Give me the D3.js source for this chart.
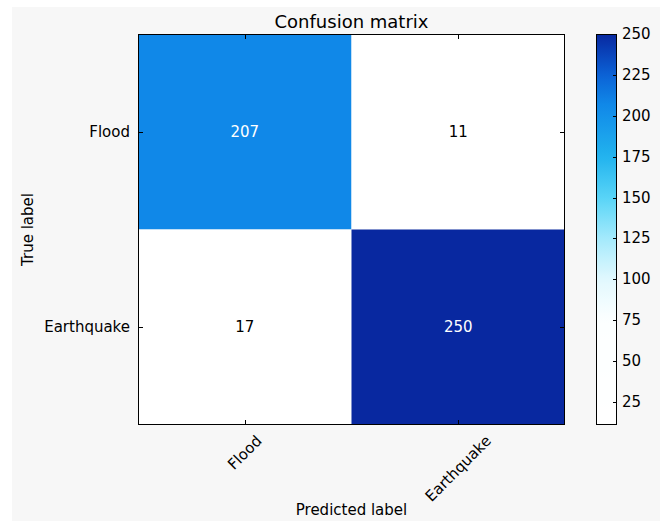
<!DOCTYPE html>
<html>
<head>
<meta charset="utf-8">
<script src="https://cdn.jsdelivr.net/npm/d3@7"></script>
<style>
  html, body { margin: 0; padding: 0; background: #ffffff; }
  svg { display: block; font-family: "DejaVu Sans", sans-serif; }
</style>
</head>
<body>
<svg id="chart" width="668" height="521"></svg>
<script>
// Class names shared by both axes
const categories = ["Flood", "Earthquake"];
// Counts per true label (row), split by predicted label (column)
const floodRow = [207, 11];
const earthquakeRow = [17, 250];
// Colour bar ticks
const colorbarTicks = [25, 50, 75, 100, 125, 150, 175, 200, 225, 250];
// Colour map stops (fraction of range -> colour)
const cmapStops = [0, 0.268, 0.372, 0.477, 0.582, 0.686, 0.82, 0.895, 1];
const cmapColors = ["#ffffff", "#fcffff", "#e2f8fe", "#a4eafc", "#58d4f7", "#22b3ee", "#1088e8", "#0b62d6", "#0828a0"];

const matrix = [floodRow, earthquakeRow];
const cells = [];
matrix.forEach((row, i) => row.forEach((v, j) => cells.push({ i, j, v })));
const allVals = cells.map(d => d.v);
const vmin = d3.min(allVals), vmax = d3.max(allVals);

const svg = d3.select("#chart");

// Figure background
svg.append("rect").attr("x", 12).attr("y", 7).attr("width", 648).attr("height", 514).attr("fill", "#f7f7f7");

const plot = { left: 138, top: 34, right: 565, bottom: 425 };

const x = d3.scaleBand().domain(d3.range(categories.length)).range([plot.left, plot.right]);
const y = d3.scaleBand().domain(d3.range(categories.length)).range([plot.top, plot.bottom]);

const norm = d3.scaleLinear().domain([vmin, vmax]).range([0, 1]).clamp(true);
const cmap = d3.scaleLinear().domain(cmapStops).range(cmapColors).interpolate(d3.interpolateRgb);
const color = v => cmap(norm(v));

// Cells
svg.append("g").selectAll("rect").data(cells).join("rect")
  .attr("x", d => x(d.j)).attr("y", d => y(d.i))
  .attr("width", x.bandwidth()).attr("height", y.bandwidth())
  .attr("fill", d => color(d.v));

// Cell values
const thresh = vmax / 2;
svg.append("g").selectAll("text").data(cells).join("text")
  .attr("x", d => x(d.j) + x.bandwidth() / 2)
  .attr("y", d => y(d.i) + y.bandwidth() / 2)
  .attr("text-anchor", "middle").attr("dominant-baseline", "central")
  .attr("font-size", 15)
  .attr("fill", d => d.v > thresh ? "#ffffff" : "#000000")
  .text(d => d.v);

// Inward ticks on all four sides
const tickLen = 5;
const ticks = svg.append("g").attr("stroke", "#000").attr("stroke-width", 1);
categories.forEach((c, k) => {
  const cx = Math.round(x(k) + x.bandwidth() / 2) + 0.5;
  const cy = Math.round(y(k) + y.bandwidth() / 2) + 0.5;
  ticks.append("line").attr("x1", cx).attr("x2", cx).attr("y1", plot.bottom).attr("y2", plot.bottom - tickLen);
  ticks.append("line").attr("x1", cx).attr("x2", cx).attr("y1", plot.top).attr("y2", plot.top + tickLen);
  ticks.append("line").attr("y1", cy).attr("y2", cy).attr("x1", plot.left).attr("x2", plot.left + tickLen);
  ticks.append("line").attr("y1", cy).attr("y2", cy).attr("x1", plot.right).attr("x2", plot.right - tickLen);
});

// Frame
svg.append("rect").attr("x", plot.left + 0.5).attr("y", plot.top + 0.5)
  .attr("width", plot.right - plot.left - 1).attr("height", plot.bottom - plot.top - 1)
  .attr("fill", "none").attr("stroke", "#000").attr("stroke-width", 1);

// Y tick labels
svg.append("g").selectAll("text").data(categories).join("text")
  .attr("x", plot.left - 8)
  .attr("y", (d, k) => y(k) + y.bandwidth() / 2)
  .attr("text-anchor", "end").attr("dominant-baseline", "central")
  .attr("font-size", 15).attr("fill", "#000")
  .text(d => d);

// X tick labels, rotated 45 degrees and centred under each tick
const xl = svg.append("g");
categories.forEach((c, k) => {
  const t = xl.append("text")
    .attr("text-anchor", "middle").attr("dominant-baseline", "central")
    .attr("font-size", 15).attr("fill", "#000").text(c);
  const w = t.node().getComputedTextLength();
  const h = 15;
  const half = (w + h) / (2 * Math.SQRT2);
  const cx = x(k) + x.bandwidth() / 2;
  t.attr("transform", `translate(${cx},${plot.bottom + 8 + half}) rotate(-45)`);
});

// Axis titles
svg.append("text").attr("x", (plot.left + plot.right) / 2).attr("y", 515)
  .attr("text-anchor", "middle").attr("font-size", 15).attr("fill", "#000").text("Predicted label");
svg.append("text").attr("transform", `translate(33,${(plot.top + plot.bottom) / 2}) rotate(-90)`)
  .attr("text-anchor", "middle").attr("font-size", 15).attr("fill", "#000").text("True label");

// Title
svg.append("text").attr("x", (plot.left + plot.right) / 2).attr("y", 28)
  .attr("text-anchor", "middle").attr("font-size", 18).attr("fill", "#000").text("Confusion matrix");

// Colour bar
const cb = { left: 596, right: 617, top: 34, bottom: 425 };
const cbScale = d3.scaleLinear().domain([vmin, vmax]).range([cb.bottom, cb.top]);
const defs = svg.append("defs");
const grad = defs.append("linearGradient").attr("id", "cbgrad")
  .attr("x1", 0).attr("y1", 1).attr("x2", 0).attr("y2", 0);
d3.range(0, 1.0001, 0.02).forEach(f => {
  grad.append("stop").attr("offset", f).attr("stop-color", cmap(f));
});
svg.append("rect").attr("x", cb.left).attr("y", cb.top)
  .attr("width", cb.right - cb.left).attr("height", cb.bottom - cb.top)
  .attr("fill", "url(#cbgrad)");
const cbAxis = svg.append("g");
colorbarTicks.forEach(v => {
  const ty = Math.round(cbScale(v)) + 0.5;
  cbAxis.append("line").attr("x1", cb.right - 4).attr("x2", cb.right)
    .attr("y1", ty).attr("y2", ty).attr("stroke", "#000").attr("stroke-width", 1);
  cbAxis.append("text").attr("x", cb.right + 5).attr("y", cbScale(v))
    .attr("dominant-baseline", "central").attr("font-size", 15).attr("fill", "#000").text(v);
});
svg.append("rect").attr("x", cb.left + 0.5).attr("y", cb.top + 0.5)
  .attr("width", cb.right - cb.left - 1).attr("height", cb.bottom - cb.top - 1)
  .attr("fill", "none").attr("stroke", "#000").attr("stroke-width", 1);
</script>
</body>
</html>
